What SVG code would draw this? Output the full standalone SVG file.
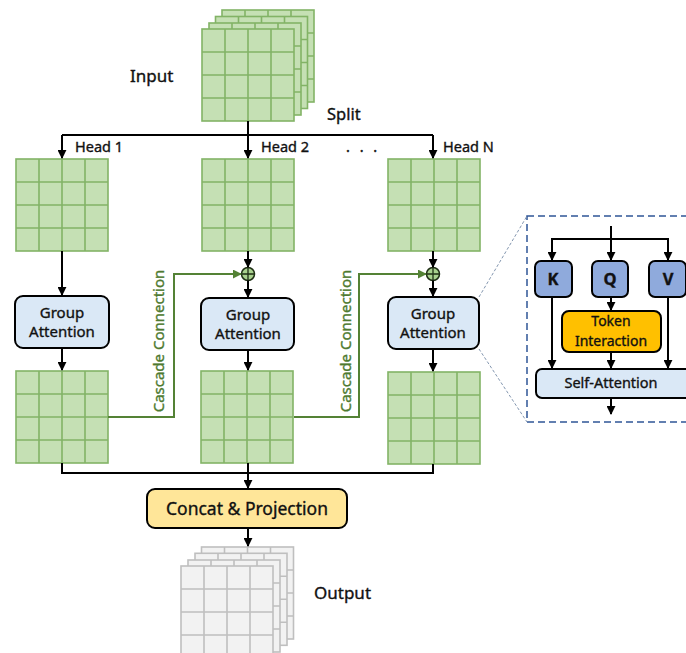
<svg xmlns="http://www.w3.org/2000/svg" width="686" height="653" viewBox="0 0 686 653">
<style>
.gfill{fill:#c5e0b4;stroke:#82b366;stroke-width:1.6}
.gline{fill:none;stroke:#82b366;stroke-width:1.6}
.wfill{fill:#f2f2f2;stroke:#bfbfbf;stroke-width:1.6}
.wline{fill:none;stroke:#bfbfbf;stroke-width:1.6}
.box{fill:#dae8f6;stroke:#000;stroke-width:2}
.kqv{fill:#8faadc;stroke:#000;stroke-width:2}
.tok{fill:#ffc000;stroke:#000;stroke-width:2}
.cat{fill:#ffe699;stroke:#000;stroke-width:2}
.wire{fill:none;stroke:#000;stroke-width:2}
.gwire{fill:none;stroke:#548235;stroke-width:2}
.t{font-family:"Noto Sans","Liberation Sans",sans-serif;fill:#111;stroke:#111;stroke-width:0.35;text-anchor:middle}
.tl{font-family:"Noto Sans","Liberation Sans",sans-serif;fill:#111;stroke:#111;stroke-width:0.35}
.gt{font-family:"Noto Sans","Liberation Sans",sans-serif;fill:#4e7a30;stroke:#4e7a30;stroke-width:0.35;font-size:15px;text-anchor:middle}
</style>
<defs>
<marker id="ah" viewBox="0 0 10 10" refX="9" refY="5" markerWidth="4.5" markerHeight="4.5" orient="auto"><path d="M0,0L10,5L0,10z" fill="#000"/></marker>
<marker id="ahg" viewBox="0 0 10 10" refX="9" refY="5" markerWidth="4.5" markerHeight="4.5" orient="auto"><path d="M0,0L10,5L0,10z" fill="#548235"/></marker>
<g id="gridG"><rect width="92" height="92" class="gfill"/><path d="M23 0V92M46 0V92M69 0V92M0 23H92M0 46H92M0 69H92" class="gline"/></g>
<g id="gridW"><rect width="92" height="92" class="wfill"/><path d="M23 0V92M46 0V92M69 0V92M0 23H92M0 46H92M0 69H92" class="wline"/></g>
<g id="plus"><circle r="6.5" fill="#a9d18e" stroke="#1e2e14" stroke-width="1.5"/><path d="M-6.5 0H6.5M0 -6.5V6.5" stroke="#1e2e14" stroke-width="1.3"/></g>
</defs>

<g id="input">
<use href="#gridG" x="222" y="10"/>
<use href="#gridG" x="215.5" y="16.5"/>
<use href="#gridG" x="209" y="23"/>
<use href="#gridG" x="202" y="29"/>
<text class="tl" x="130" y="82" font-size="17">Input</text>
</g>
<text class="tl" x="327" y="120" font-size="16.5">Split</text>

<g id="head1"><use href="#gridG" x="16" y="159"/><text class="tl" x="75" y="152" font-size="14.5">Head 1</text></g>
<g id="head2"><use href="#gridG" x="202" y="159"/><text class="tl" x="261" y="152" font-size="14.5">Head 2</text></g>
<text class="tl" x="346" y="152" font-size="14.5" letter-spacing="3">. . .</text>
<g id="headN"><use href="#gridG" x="388" y="159"/><text class="tl" x="443" y="152" font-size="14.5">Head N</text></g>

<g id="ga1"><rect class="box" x="15" y="296" width="94" height="52" rx="8"/><text class="t" x="62" y="318" font-size="15">Group</text><text class="t" x="62" y="337" font-size="15">Attention</text></g>
<g id="ga2"><rect class="box" x="201" y="298" width="93" height="52" rx="8"/><text class="t" x="248" y="320" font-size="15">Group</text><text class="t" x="248" y="339" font-size="15">Attention</text></g>
<g id="gaN"><rect class="box" x="388" y="297" width="91" height="52" rx="8"/><text class="t" x="433" y="319" font-size="15">Group</text><text class="t" x="433" y="338" font-size="15">Attention</text></g>

<g id="plus2"><use href="#plus" x="248" y="274"/></g>
<g id="plusN"><use href="#plus" x="433" y="274"/></g>

<g id="out1"><use href="#gridG" x="16" y="371"/></g>
<g id="out2"><use href="#gridG" x="201" y="371"/></g>
<g id="outN"><use href="#gridG" x="388" y="372"/></g>

<g id="concat"><rect class="cat" x="147" y="489" width="200" height="39" rx="8"/><text class="t" x="247" y="515" font-size="17.5">Concat &amp; Projection</text></g>

<g id="output">
<use href="#gridW" x="201.5" y="547"/>
<use href="#gridW" x="195" y="553.3"/>
<use href="#gridW" x="188" y="560"/>
<use href="#gridW" x="181" y="566"/>
<text class="tl" x="314" y="599" font-size="17">Output</text>
</g>

<g id="cascade-labels">
<text class="gt" transform="translate(164 341) rotate(-90)">Cascade Connection</text>
<text class="gt" transform="translate(351 341) rotate(-90)">Cascade Connection</text>
</g>

<g id="detail">
<rect x="527" y="216" width="170" height="206" fill="none" stroke="#2f5597" stroke-width="1.5" stroke-dasharray="7 4"/>
<path d="M479 297L527 216M479 349L527 422" fill="none" stroke="#8497b0" stroke-width="1" stroke-dasharray="3 2"/>
<g id="K"><rect class="kqv" x="535" y="261" width="37" height="36" rx="6"/><text class="t" x="553" y="285" font-size="16.5" font-weight="bold">K</text></g>
<g id="Q"><rect class="kqv" x="592" y="261" width="36" height="36" rx="6"/><text class="t" x="610" y="285" font-size="16.5" font-weight="bold">Q</text></g>
<g id="V"><rect class="kqv" x="649" y="261" width="37" height="36" rx="6"/><text class="t" x="668" y="285" font-size="16.5" font-weight="bold">V</text></g>
<g id="token"><rect class="tok" x="562" y="311" width="99" height="41" rx="7"/><text class="t" x="611" y="326" font-size="14">Token</text><text class="t" x="611" y="346" font-size="14">Interaction</text></g>
<g id="selfattn"><rect class="box" x="536" y="369" width="160" height="29" rx="6"/><text class="t" x="611" y="388" font-size="14.5">Self-Attention</text></g>
</g>

<g id="connectors">
<path class="wire" d="M248 121V135M62 135H433"/>
<path class="wire" d="M62 135V158" marker-end="url(#ah)"/>
<path class="wire" d="M248 135V158" marker-end="url(#ah)"/>
<path class="wire" d="M433 135V158" marker-end="url(#ah)"/>
<path class="wire" d="M62 251V295" marker-end="url(#ah)"/>
<path class="wire" d="M62 348V370" marker-end="url(#ah)"/>
<path class="wire" d="M248 251V267" marker-end="url(#ah)"/>
<path class="wire" d="M248 280.5V297" marker-end="url(#ah)"/>
<path class="wire" d="M248 350V370" marker-end="url(#ah)"/>
<path class="wire" d="M433 251V267" marker-end="url(#ah)"/>
<path class="wire" d="M433 280.5V296" marker-end="url(#ah)"/>
<path class="wire" d="M433 349V371" marker-end="url(#ah)"/>
<path class="wire" d="M62 463V473H433V464"/>
<path class="wire" d="M248 463V488" marker-end="url(#ah)"/>
<path class="wire" d="M248 528V546" marker-end="url(#ah)"/>
<path class="gwire" d="M108 417H174V274H241" marker-end="url(#ahg)"/>
<path class="gwire" d="M294 417H359V274H426" marker-end="url(#ahg)"/>
<path class="wire" d="M611 226V260" marker-end="url(#ah)"/>
<path class="wire" d="M552 261V239H668V261"/>
<path class="wire" d="M552 239V260" marker-end="url(#ah)"/>
<path class="wire" d="M668 239V260" marker-end="url(#ah)"/>
<path class="wire" d="M611 297V310" marker-end="url(#ah)"/>
<path class="wire" d="M552 297V368" marker-end="url(#ah)"/>
<path class="wire" d="M611 352V368" marker-end="url(#ah)"/>
<path class="wire" d="M668 297V368" marker-end="url(#ah)"/>
<path class="wire" d="M611 398V414" marker-end="url(#ah)"/>
</g>
</svg>
